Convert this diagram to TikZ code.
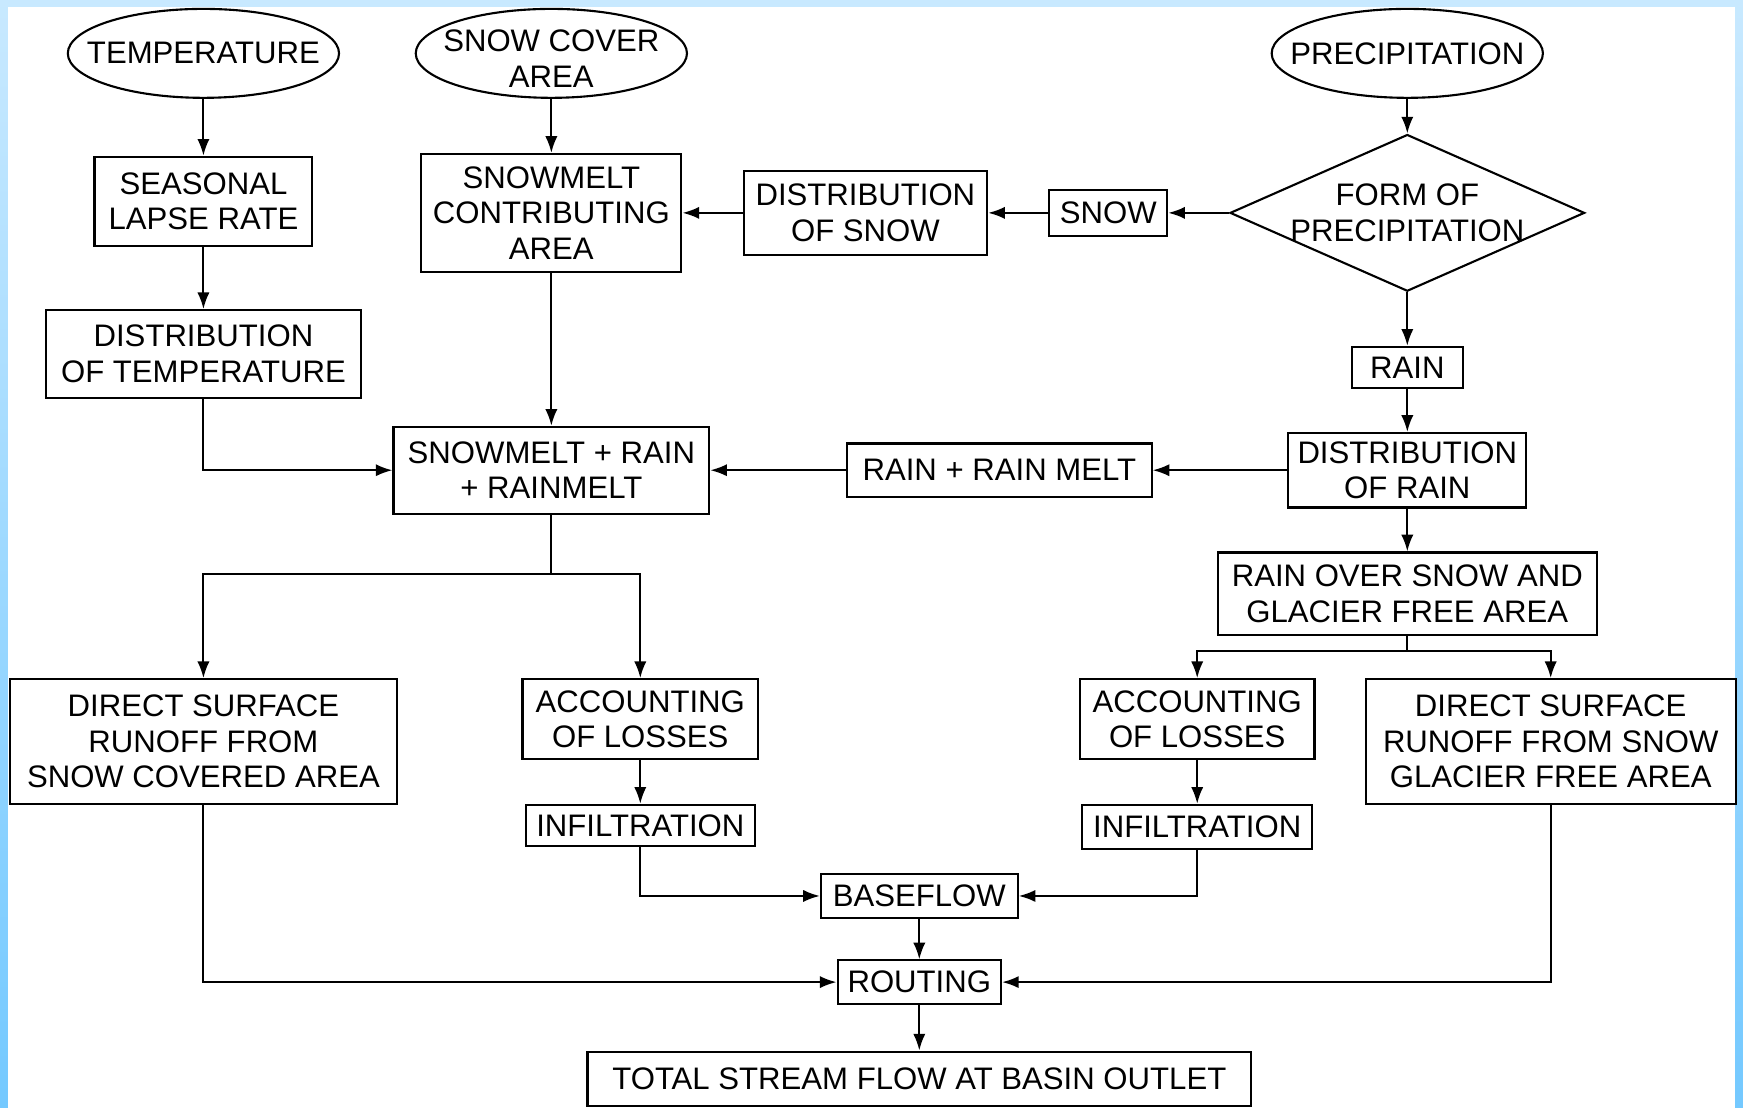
\documentclass[tikz,border=0pt]{standalone}
\usepackage{fontspec}
\setmainfont{Liberation Sans}
\usetikzlibrary{shapes.geometric,arrows.meta}
\definecolor{edgeblue}{HTML}{74C9FF}
\definecolor{paleblue}{HTML}{C8E9FF}
\begin{document}
\begin{tikzpicture}[x=1pt,y=-1pt,line width=1.9pt,
  txt/.style={font=\fontsize{28}{32}\selectfont,align=center,text=black,inner sep=0pt},
  box/.style={draw,rectangle,txt},
  oval/.style={draw,ellipse,inner sep=0pt,minimum width=244pt,minimum height=80pt},
  arr/.style={-{Latex[length=15pt,width=11pt]}}]
% background frame
\fill[paleblue] (0,0) rectangle (1568,996);
\shade[top color=paleblue,bottom color=edgeblue] (0,0) rectangle (7,996);
\shade[top color=paleblue,bottom color=edgeblue] (1561,0) rectangle (1568,996);
\fill[white] (7,6) rectangle (1561,996);
\useasboundingbox (0,0) rectangle (1568,996);
% ovals
\node[oval,label={[txt]center:TEMPERATURE}] (temp) at (183,48) {};
\node[oval,label={[txt,yshift=-5pt]center:{SNOW COVER\\AREA}}] (scov) at (496,48) {};
\node[oval,label={[txt]center:PRECIPITATION}] (precip) at (1266,48) {};
% diamond
\node[draw,diamond,inner sep=0pt,minimum width=319pt,minimum height=141pt,
      label={[txt]center:{FORM OF\\PRECIPITATION}}] (form) at (1266,191.5) {};
% boxes
\node[box,minimum width=196pt,minimum height=80pt] (seas) at (183,181) {SEASONAL\\LAPSE RATE};
\node[box,minimum width=283pt,minimum height=79pt] (dtemp) at (183,318.5) {DISTRIBUTION\\OF TEMPERATURE};
\node[box,minimum width=234pt,minimum height=106pt] (smca) at (496,191.5) {SNOWMELT\\CONTRIBUTING\\AREA};
\node[box,minimum width=219pt,minimum height=75pt] (dsnow) at (778.5,191.5) {DISTRIBUTION\\OF SNOW};
\node[box,minimum width=106pt,minimum height=41pt] (snow) at (997,191.5) {SNOW};
\node[box,minimum width=100pt,minimum height=37pt] (rain) at (1266,330.5) {RAIN};
\node[box,minimum width=284pt,minimum height=78pt] (smr) at (496,423) {SNOWMELT + RAIN\\+ RAINMELT};
\node[box,minimum width=274pt,minimum height=48pt] (rrm) at (899,423) {RAIN + RAIN MELT};
\node[box,minimum width=214pt,minimum height=67pt] (drain) at (1266,423) {DISTRIBUTION\\OF RAIN};
\node[box,minimum width=341pt,minimum height=74pt] (ros) at (1266,534) {RAIN OVER SNOW AND\\GLACIER FREE AREA};
\node[box,minimum width=348pt,minimum height=112pt] (dsr1) at (183,667) {DIRECT SURFACE\\RUNOFF FROM\\SNOW COVERED AREA};
\node[box,minimum width=212pt,minimum height=72pt] (acc1) at (576,647) {ACCOUNTING\\OF LOSSES};
\node[box,minimum width=206pt,minimum height=37pt] (inf1) at (576,742.5) {INFILTRATION};
\node[box,minimum width=211pt,minimum height=72pt] (acc2) at (1077,647) {ACCOUNTING\\OF LOSSES};
\node[box,minimum width=207pt,minimum height=40pt] (inf2) at (1077,744) {INFILTRATION};
\node[box,minimum width=333pt,minimum height=112pt] (dsr2) at (1395,667) {DIRECT SURFACE\\RUNOFF FROM SNOW\\GLACIER FREE AREA};
\node[box,minimum width=177pt,minimum height=40pt] (base) at (827,806) {BASEFLOW};
\node[box,minimum width=147pt,minimum height=39pt] (rout) at (827,883.5) {ROUTING};
\node[box,minimum width=597pt,minimum height=49pt] (total) at (827,970.5) {TOTAL STREAM FLOW AT BASIN OUTLET};
% junctions
\coordinate (j1) at (496,516);
\coordinate (j2) at (1266,586);
% connectors
\draw[arr] (temp) -- (seas);
\draw[arr] (seas) -- (dtemp);
\draw[arr] (dtemp.south) |- (smr.west);
\draw[arr] (scov) -- (smca);
\draw[arr] (smca) -- (smr);
\draw[arr] (dsnow) -- (smca);
\draw[arr] (snow) -- (dsnow);
\draw[arr] (form) -- (snow);
\draw[arr] (precip) -- (form);
\draw[arr] (form) -- (rain);
\draw[arr] (rain) -- (drain);
\draw[arr] (drain) -- (rrm);
\draw[arr] (rrm) -- (smr);
\draw[arr] (drain) -- (ros);
\draw (smr.south) -- (j1);
\draw[arr] (j1) -| (dsr1.north);
\draw[arr] (j1) -| (acc1.north);
\draw (ros.south) -- (j2);
\draw[arr] (j2) -| (acc2.north);
\draw[arr] (j2) -| (dsr2.north);
\draw[arr] (acc1) -- (inf1);
\draw[arr] (acc2) -- (inf2);
\draw[arr] (inf1.south) |- (base.west);
\draw[arr] (inf2.south) |- (base.east);
\draw[arr] (base) -- (rout);
\draw[arr] (dsr1.south) |- (rout.west);
\draw[arr] (dsr2.south) |- (rout.east);
\draw[arr] (rout) -- (total);
\end{tikzpicture}
\end{document}
